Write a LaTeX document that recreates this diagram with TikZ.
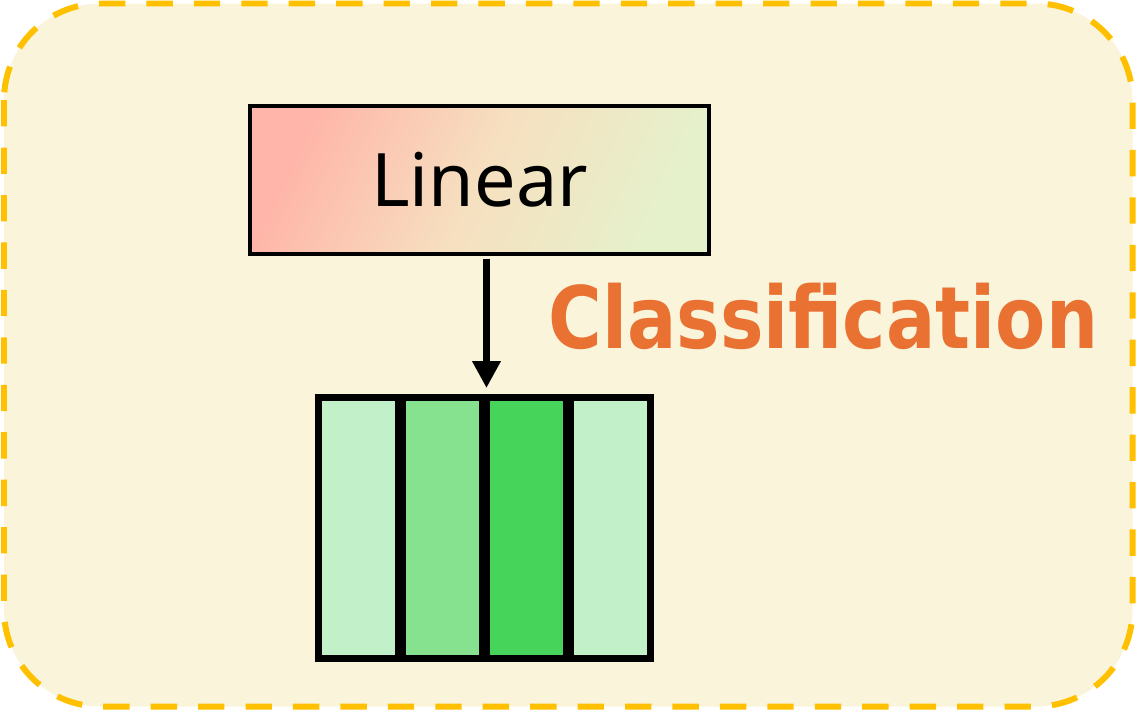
\documentclass[tikz,border=0pt]{standalone}
\usepackage{fontspec}
\usepackage{xcolor}
\usetikzlibrary{arrows.meta,positioning}

\newfontfamily\linfont{Noto Sans}
\newfontfamily\clsfont[FakeStretch=0.85]{DejaVu Sans}

\definecolor{panelbg}{HTML}{FAF4DA}
\definecolor{paneldash}{HTML}{FFC000}
\definecolor{linA}{HTML}{FFB5A9}
\definecolor{linB}{HTML}{F6E0C0}
\definecolor{linC}{HTML}{E5F1CB}
\definecolor{clsorange}{HTML}{E97132}
\definecolor{gLight}{HTML}{C2F0C8}
\definecolor{gMid}{HTML}{86E28F}
\definecolor{gStrong}{HTML}{47D45A}

\begin{document}
\begin{tikzpicture}[
  x=0.02cm, y=-0.02cm,
  panel/.style={draw=paneldash, fill=panelbg, line width=3.4pt, dash pattern=on 15pt off 12pt, rounded corners=55pt},
  linbox/.style={draw, line width=1.9pt, minimum width=9.18cm, minimum height=2.96cm, inner sep=0pt,
    shading=axis, left color=linA, right color=linC, middle color=linB, shading angle=65},
  cell/.style={draw, line width=4pt, minimum width=1.6cm, minimum height=5.22cm, inner sep=0pt, outer sep=0pt},
  flow/.style={-{Triangle[width=15.3pt, length=15.3pt]}, line width=3.8pt},
  node distance=0.08cm
]
\useasboundingbox (0,0) rectangle (1148,711);
% outer dashed panel
\draw[panel] (4,3.5) rectangle (1132.5,706.5);

% Linear layer
\node[linbox] (linear) at (479.5,180) {\linfont\fontsize{42}{50}\selectfont Linear};

% class scores
\node[cell, fill=gLight]  (c1) at (358.5,528) {};
\node[cell, fill=gMid,    right=of c1] (c2) {};
\node[cell, fill=gStrong, right=of c2] (c3) {};
\node[cell, fill=gLight,  right=of c3] (c4) {};

\draw[flow, shorten <=1.7pt, shorten >=5.4pt] (linear.south -| c3.north west) -- (c3.north west);

% label
\node[anchor=base west, inner sep=0pt, text=clsorange] (cls) at (548,348)
  {\clsfont\bfseries\fontsize{49}{58}\selectfont Classification};
\end{tikzpicture}
\end{document}
